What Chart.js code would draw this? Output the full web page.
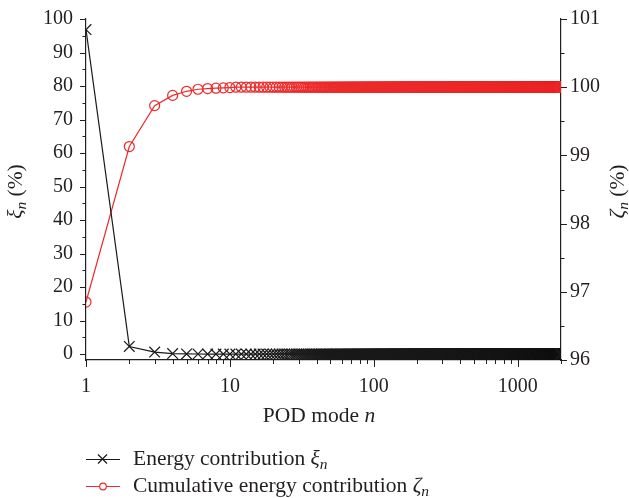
<!DOCTYPE html>
<html>
<head>
<meta charset="utf-8">
<script src="https://cdn.jsdelivr.net/npm/chart.js@4.4.1/dist/chart.umd.min.js"></script>
<style>
  html, body { margin: 0; padding: 0; background: #ffffff; }
  #wrap { width: 629px; height: 498px; }
</style>
</head>
<body>
<div id="wrap"><canvas id="c" width="629" height="498"></canvas></div>
<script>
// Energy spectrum of the POD modes: per-mode share and running total.
const MODE_COUNT = 2000;

// First modes, read one by one; beyond them both curves sit on their plateau.
const energyHead     = [96.85, 2.28, 0.60, 0.15, 0.06, 0.03, 0.01, 0.005, 0.005, 0.005];
const energyPlateau  = 0;
const cumulativeHead = [96.85, 99.13, 99.73, 99.88, 99.94, 99.97, 99.98, 99.985, 99.99, 99.995];
const cumulativePlateau = 100;

// Axis tick labels
const xTickValues     = [1, 10, 100, 1000];
const leftTickValues  = [0, 10, 20, 30, 40, 50, 60, 70, 80, 90, 100];
const rightTickValues = [96, 97, 98, 99, 100, 101];

const modes = [];
for (let n = 1; n <= MODE_COUNT; n++) modes.push(n);

const energyPoints = modes.map((n, i) => ({ x: n, y: i < energyHead.length ? energyHead[i] : energyPlateau }));
const cumulativePoints = modes.map((n, i) => ({ x: n, y: i < cumulativeHead.length ? cumulativeHead[i] : cumulativePlateau }));

const INK = '#231f20';
const RED = '#ec2a2a';
const SERIF = '"Liberation Serif", "Times New Roman", serif';
const FS = 20;      // tick labels
const FS_TEXT = 21.5; // titles and legend

// Draw a run of text pieces (plain / italic / subscript), centred on x.
function drawRich(ctx, parts, x, y, size) {
  let total = 0;
  const segs = parts.map(p => {
    const fs = p.sub ? size * 0.72 : size;
    const font = (p.italic ? 'italic ' : '') + fs + 'px ' + SERIF;
    ctx.font = font;
    const w = ctx.measureText(p.text).width;
    total += w;
    return { font, w, text: p.text, dy: p.sub ? size * 0.2 : 0 };
  });
  let cx = x - total / 2;
  ctx.textAlign = 'left';
  ctx.textBaseline = 'alphabetic';
  segs.forEach(s => { ctx.font = s.font; ctx.fillText(s.text, cx, y + s.dy); cx += s.w; });
}
function drawRichLeft(ctx, parts, x, y, size) {
  let total = 0;
  parts.forEach(p => {
    ctx.font = (p.italic ? 'italic ' : '') + (p.sub ? size * 0.72 : size) + 'px ' + SERIF;
    total += ctx.measureText(p.text).width;
  });
  drawRich(ctx, parts, x + total / 2, y, size);
}

const decorations = {
  id: 'decorations',
  afterDraw(chart) {
    const { ctx, chartArea: a, scales } = chart;
    ctx.save();
    ctx.strokeStyle = INK;
    ctx.fillStyle = INK;
    ctx.lineWidth = 1;

    // tick marks: left axis
    ctx.beginPath();
    for (let v = 0; v <= 100; v += 5) {
      const y = Math.round(scales.y.getPixelForValue(v)) + 0.5;
      const len = v % 10 === 0 ? 6 : 3.5;
      ctx.moveTo(a.left, y); ctx.lineTo(a.left - len, y);
    }
    // right axis
    for (let v = 96; v <= 101.001; v += 0.5) {
      const y = Math.round(scales.y1.getPixelForValue(v)) + 0.5;
      const len = Number.isInteger(v) ? 6 : 3.5;
      ctx.moveTo(a.right, y); ctx.lineTo(a.right + len, y);
    }
    // bottom (log) axis
    for (const d of xTickValues) {
      for (let m = 1; m <= 9; m++) {
        const v = m * d;
        if (v > scales.x.max) break;
        const x = Math.round(scales.x.getPixelForValue(v)) + 0.5;
        const len = m === 1 ? 7 : 4;
        ctx.moveTo(x, a.bottom); ctx.lineTo(x, a.bottom + len);
      }
    }
    ctx.stroke();

    // axis titles
    drawRich(ctx, [{ text: 'POD mode ' }, { text: 'n', italic: true }], 319, 422, FS_TEXT);

    ctx.save();
    ctx.translate(22, (a.top + a.bottom) / 2 + 2);
    ctx.rotate(-Math.PI / 2);
    drawRich(ctx, [{ text: 'ξ', italic: true }, { text: 'n', italic: true, sub: true }, { text: ' (%)' }], 0, 0, FS_TEXT);
    ctx.restore();

    ctx.save();
    ctx.translate(624, (a.top + a.bottom) / 2 + 2);
    ctx.rotate(-Math.PI / 2);
    drawRich(ctx, [{ text: 'ζ', italic: true }, { text: 'n', italic: true, sub: true }, { text: ' (%)' }], 0, 0, FS_TEXT);
    ctx.restore();

    // legend
    const rows = [
      { ds: chart.data.datasets[0], y: 459, parts: [{ text: 'Energy contribution ' }, { text: 'ξ', italic: true }, { text: 'n', italic: true, sub: true }] },
      { ds: chart.data.datasets[1], y: 486, parts: [{ text: 'Cumulative energy contribution ' }, { text: 'ζ', italic: true }, { text: 'n', italic: true, sub: true }] }
    ];
    rows.forEach((r, i) => {
      ctx.strokeStyle = r.ds.borderColor;
      ctx.lineWidth = 1.2;
      ctx.beginPath();
      ctx.moveTo(86, r.y + 0.5); ctx.lineTo(120, r.y + 0.5);
      ctx.stroke();
      if (i === 0) {
        ctx.beginPath();
        ctx.moveTo(98, r.y - 4.5); ctx.lineTo(107, r.y + 4.5);
        ctx.moveTo(98, r.y + 4.5); ctx.lineTo(107, r.y - 4.5);
        ctx.stroke();
      } else {
        ctx.fillStyle = '#ffffff';
        ctx.beginPath();
        ctx.arc(103, r.y + 0.5, 3.3, 0, Math.PI * 2);
        ctx.fill(); ctx.stroke();
      }
      ctx.fillStyle = INK;
      drawRichLeft(ctx, r.parts, 133, r.y + 6, FS_TEXT);
    });
    ctx.restore();
  }
};

const tickFont = { family: SERIF, size: FS };

new Chart(document.getElementById('c'), {
  type: 'line',
  data: {
    datasets: [
      {
        label: 'Energy contribution',
        data: energyPoints,
        yAxisID: 'y',
        borderColor: '#1a1a1a',
        borderWidth: 1.2,
        pointStyle: 'crossRot',
        pointRadius: 7.5,
        pointBorderWidth: 1.2,
        pointBorderColor: '#1a1a1a',
        pointBackgroundColor: 'rgba(0,0,0,0)',
        clip: { left: 0, top: 10, right: 0, bottom: 10 }
      },
      {
        label: 'Cumulative energy contribution',
        data: cumulativePoints,
        yAxisID: 'y1',
        borderColor: RED,
        borderWidth: 1.2,
        pointStyle: 'circle',
        pointRadius: 5,
        pointBorderWidth: 1.2,
        pointBorderColor: RED,
        pointBackgroundColor: 'rgba(0,0,0,0)',
        clip: { left: 0, top: 10, right: 0, bottom: 10 }
      }
    ]
  },
  options: {
    responsive: false,
    animation: false,
    devicePixelRatio: 1,
    layout: { padding: { top: 13, left: 0, right: 0, bottom: 0 } },
    plugins: { legend: { display: false }, tooltip: { enabled: false } },
    scales: {
      x: {
        type: 'logarithmic',
        position: 'bottom',
        min: 1,
        max: MODE_COUNT,
        grid: { display: false, drawTicks: true, tickLength: 7 },
        border: { display: true, color: INK, width: 1.2 },
        afterBuildTicks: s => { s.ticks = xTickValues.map(v => ({ value: v })); },
        ticks: { font: tickFont, color: INK, padding: 8, maxRotation: 0, autoSkip: false,
                 callback: v => String(v) },
        afterFit: s => { s.height = 138; }
      },
      y: {
        type: 'linear',
        position: 'left',
        min: -1.76,
        max: 100,
        grid: { display: false, drawTicks: true, tickLength: 6 },
        border: { display: true, color: INK, width: 1.2 },
        afterBuildTicks: s => { s.ticks = leftTickValues.map(v => ({ value: v })); },
        ticks: { font: tickFont, color: INK, padding: 7, callback: v => String(v) },
        afterFit: s => { s.width = 86; }
      },
      y1: {
        type: 'linear',
        position: 'right',
        min: 96,
        max: 101,
        grid: { display: false, drawTicks: true, tickLength: 6 },
        border: { display: true, color: INK, width: 1.2 },
        afterBuildTicks: s => { s.ticks = rightTickValues.map(v => ({ value: v })); },
        ticks: { font: tickFont, color: INK, padding: 3, callback: v => String(v) },
        afterFit: s => { s.width = 68; }
      }
    }
  },
  plugins: [decorations]
});
</script>
</body>
</html>
